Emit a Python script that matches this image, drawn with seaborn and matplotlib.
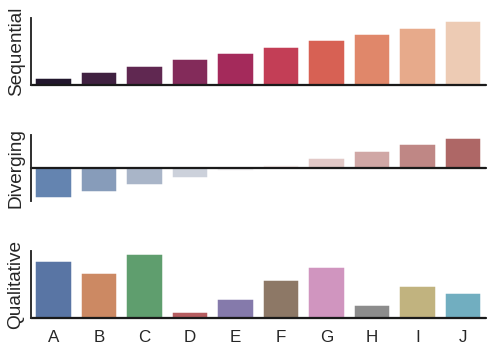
import numpy as np
import seaborn as sns
import matplotlib.pyplot as plt

sns.set_theme(style="white", context="talk")
plt.rcParams['font.family'] = ['Liberation Sans', 'DejaVu Sans']
plt.rcParams['axes.labelsize'] = 19
plt.rcParams['xtick.labelsize'] = 17

letters = list("ABCDEFGHIJ")
sequential = [1, 2, 3, 4, 5, 6, 7, 8, 9, 10]
diverging = [-4.5, -3.5, -2.5, -1.5, -0.5, 0.5, 1.5, 2.5, 3.5, 4.5]
qualitative = [9, 7, 10, 1, 3, 6, 8, 2, 5, 4]

f, (ax1, ax2, ax3) = plt.subplots(3, 1, figsize=(502 / 72, 354 / 72), sharex=True)

sns.barplot(x=letters, y=sequential, hue=letters, palette="rocket", ax=ax1, legend=False)
ax1.axhline(0, color="k", clip_on=False)
ax1.set_ylabel("Sequential")

sns.barplot(x=letters, y=diverging, hue=letters, palette="vlag", ax=ax2, legend=False)
ax2.axhline(0, color="k", clip_on=False)
ax2.set_ylabel("Diverging")

sns.barplot(x=letters, y=qualitative, hue=letters, palette="deep", ax=ax3, legend=False)
ax3.axhline(0, color="k", clip_on=False)
ax3.set_ylabel("Qualitative")

sns.despine(bottom=True)
plt.setp(f.axes, yticks=[])
for ax in f.axes:
    ax.yaxis.labelpad = 6
plt.subplots_adjust(left=0.061, right=0.968, top=0.949, bottom=0.102, hspace=0.75)
plt.savefig("out.png", dpi=72)
